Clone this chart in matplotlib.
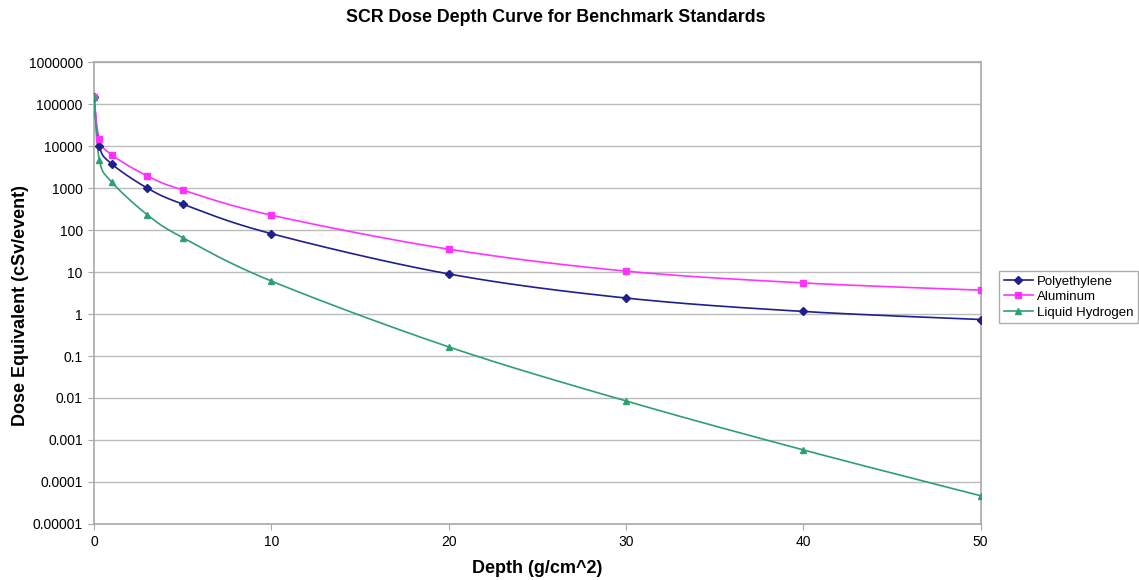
import numpy as np
import matplotlib.pyplot as plt
from matplotlib.ticker import FixedLocator, FixedFormatter

plt.rcParams["font.family"] = ["Liberation Sans", "DejaVu Sans"]

depth = [0, 0.3, 1, 3, 5, 10, 20, 30, 40, 50]
polyethylene = [150000, 10000, 3760, 1000, 415, 82, 9.0, 2.4, 1.15, 0.74]
aluminum = [150000, 14700, 6200, 1940, 900, 226, 35, 10.5, 5.5, 3.7]
liquid_hydrogen = [150000, 4700, 1390, 232, 66, 6.1, 0.165, 0.0085, 0.00058, 0.000047]

series = [
    ("Polyethylene", polyethylene, "#1f1f8f", "D", 4),
    ("Aluminum", aluminum, "#ff33ff", "s", 5),
    ("Liquid Hydrogen", liquid_hydrogen, "#2f9f72", "^", 5),
]

y_ticks = [1e-5, 1e-4, 1e-3, 1e-2, 1e-1, 1, 10, 100, 1000, 10000, 100000, 1000000]
y_labels = ["0.00001", "0.0001", "0.001", "0.01", "0.1", "1", "10", "100",
            "1000", "10000", "100000", "1000000"]


def smooth(x, y, n=30):
    # catmull-rom style smoothing in (x, log y), like Excel's smoothed line
    x = np.asarray(x, float)
    ly = np.log10(np.asarray(y, float))
    px = np.concatenate([[x[0]], x, [x[-1]]])
    py = np.concatenate([[ly[0]], ly, [ly[-1]]])
    xs, ys = [], []
    for i in range(1, len(px) - 2):
        p0, p1, p2, p3 = (np.array([px[j], py[j]]) for j in range(i - 1, i + 3))
        c1 = p1 + (p2 - p0) / 6
        c2 = p2 - (p3 - p1) / 6
        t = np.linspace(0, 1, n)[:, None]
        b = ((1 - t) ** 3) * p1 + 3 * ((1 - t) ** 2) * t * c1 + 3 * (1 - t) * t ** 2 * c2 + t ** 3 * p2
        xs.append(b[:, 0])
        ys.append(b[:, 1])
    return np.concatenate(xs), 10 ** np.concatenate(ys)


fig = plt.figure(figsize=(11.39, 5.80), dpi=100)
ax = fig.add_axes([0.0825, 0.0966, 0.7785, 0.7964])

for name, vals, color, marker, ms in series:
    sx, sy = smooth(depth, vals)
    ax.plot(sx, sy, color=color, lw=1.2, zorder=3)
    ax.plot(depth, vals, linestyle="none", marker=marker, color=color, ms=ms, zorder=4)
    ax.plot([], [], color=color, lw=1.2, marker=marker, ms=ms, label=name)

ax.set_yscale("log")
ax.set_xlim(0, 50)
ax.set_ylim(1e-5, 1e6)
ax.yaxis.set_major_locator(FixedLocator(y_ticks))
ax.yaxis.set_major_formatter(FixedFormatter(y_labels))
ax.yaxis.set_minor_locator(FixedLocator([]))
ax.set_xticks([0, 10, 20, 30, 40, 50])
ax.grid(axis="y", color="#bcbcbc", lw=1)
ax.set_axisbelow(True)
for s in ax.spines.values():
    s.set_color("#a8a8a8")
    s.set_linewidth(1.2)
ax.tick_params(axis="both", labelsize=10, color="#a8a8a8", length=4, pad=4)

fig.text(0.488, 0.97, "SCR Dose Depth Curve for Benchmark Standards", fontsize=12.8,
         fontweight="bold", ha="center", va="center")
ax.set_xlabel("Depth (g/cm^2)", fontsize=13, fontweight="bold", labelpad=8)
ax.set_ylabel("Dose Equivalent (cSv/event)", fontsize=13, fontweight="bold")
ax.yaxis.set_label_coords(-0.073, 0.474)

leg = fig.legend(loc="center left", bbox_to_anchor=(0.877, 0.488), fontsize=9.5,
                 frameon=True, fancybox=False, handlelength=2.2, borderpad=0.35,
                 labelspacing=0.25, handletextpad=0.3, borderaxespad=0)
leg.get_frame().set_edgecolor("#999999")
leg.get_frame().set_linewidth(1)

fig.savefig("out.png", dpi=100)
